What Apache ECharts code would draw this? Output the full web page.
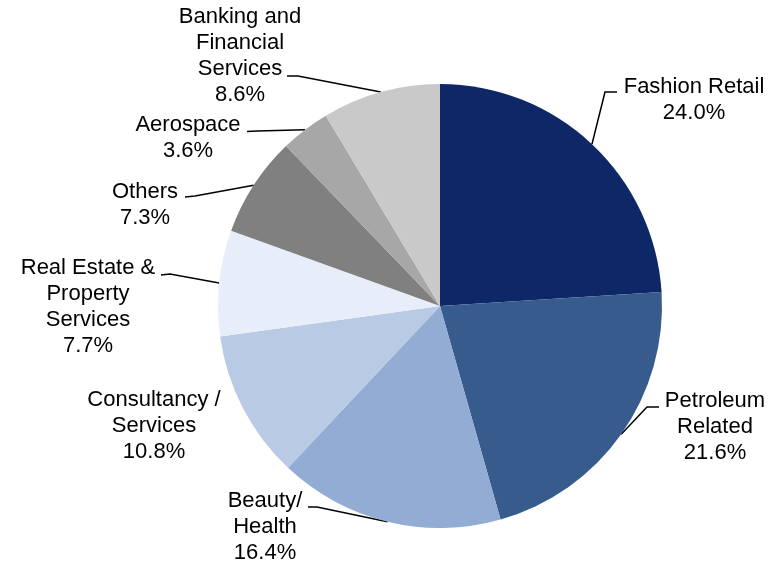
<!DOCTYPE html>
<html>
<head>
<meta charset="utf-8">
<title>Sector breakdown</title>
<script src="https://cdn.jsdelivr.net/npm/echarts@6/dist/echarts.min.js"></script>
<style>
  html, body { margin: 0; padding: 0; background: #ffffff; }
  #chart { width: 778px; height: 562px; }
</style>
</head>
<body>
<div id="chart"></div>
<script>
// Sector names (line breaks as they are set in the labels) and their shares in percent
const sectors = [
  'Fashion Retail',
  'Petroleum\nRelated',
  'Beauty/\nHealth',
  'Consultancy /\nServices',
  'Real Estate &\nProperty\nServices',
  'Others',
  'Aerospace',
  'Banking and\nFinancial\nServices'
];
const shares = [24.0, 21.6, 16.4, 10.8, 7.7, 7.3, 3.6, 8.6];

// Slice fills, in the same order as the sectors
const sliceColors = ['#0d2767', '#385b8d', '#93acd3', '#b9cae4', '#e7eefa', '#808080', '#a7a7a7', '#c9c9c9'];

// Where each label block is centred, and the bend / end of its leader line
const labelCenters = [[694, 99.5], [715, 426.5], [265, 526.5], [154, 425.5], [88, 306.5], [145, 204.5], [188, 137.5], [240, 56]];
const leaderBends = [[605, 92], [647, 407], [317, 507], null, [170, 274], [195, 196], [257, 131], [298, 76]];
const leaderEnds = [[617, 92], [659, 407], [308, 507], null, [161, 275], [185, 197], [247, 131.5], [287, 76]];

const PIE_CX = 440, PIE_CY = 306, PIE_R = 222;

const chart = echarts.init(document.getElementById('chart'), null, { renderer: 'canvas' });

const total = shares.reduce((a, b) => a + b, 0);
let acc = 0;
const midAngles = shares.map(v => { const m = (acc + v / 2) / total * Math.PI * 2; acc += v; return m; });

const data = sectors.map((name, i) => ({
  name: name,
  value: shares[i],
  itemStyle: { color: sliceColors[i] },
  labelLine: { show: leaderEnds[i] !== null }
}));

chart.setOption({
  animation: false,
  series: [{
    type: 'pie',
    center: [PIE_CX, PIE_CY],
    radius: PIE_R,
    startAngle: 90,
    clockwise: true,
    avoidLabelOverlap: false,
    data: data,
    itemStyle: { borderWidth: 0 },
    emphasis: { disabled: true },
    label: {
      show: true,
      position: 'outside',
      formatter: p => p.name + '\n' + p.value.toFixed(1) + '%',
      fontFamily: 'Liberation Sans, Arial, sans-serif',
      fontSize: 22,
      lineHeight: 26,
      color: '#000000',
      align: 'center'
    },
    labelLine: {
      show: true,
      length: 10,
      length2: 10,
      smooth: false,
      lineStyle: { color: '#000000', width: 1.5 }
    },
    labelLayout: function (params) {
      const i = params.dataIndex;
      const c = labelCenters[i];
      const out = { x: c[0], y: c[1], align: 'center', verticalAlign: 'middle' };
      if (leaderEnds[i]) {
        let start = params.labelLinePoints && params.labelLinePoints[0];
        if (!start) {
          const a = midAngles[i];
          start = [PIE_CX + PIE_R * Math.sin(a), PIE_CY - PIE_R * Math.cos(a)];
        }
        out.labelLinePoints = [[start[0], start[1]], leaderBends[i], leaderEnds[i]];
      }
      return out;
    }
  }]
});
</script>
</body>
</html>
